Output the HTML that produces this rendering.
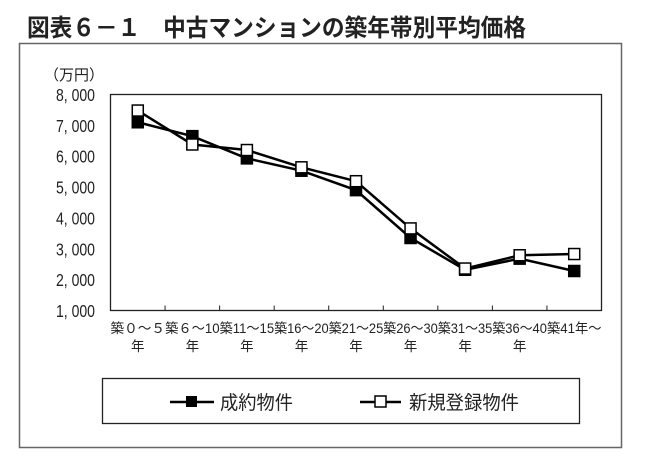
<!DOCTYPE html>
<html><head><meta charset="utf-8"><style>
body{margin:0;background:#fff;width:645px;height:463px;overflow:hidden}
svg{display:block;font-family:"Liberation Sans","Noto Sans CJK JP",sans-serif}
</style></head><body>
<svg width="645" height="463">
<text x="27" y="36" font-size="24" font-weight="bold" fill="#222" textLength="499" lengthAdjust="spacingAndGlyphs">図表６－１　中古マンションの築年帯別平均価格</text>
<rect x="19.5" y="43.5" width="602" height="404" fill="none" stroke="#666" stroke-width="1.5"/>
<text x="44" y="80" font-size="15" fill="#222">（万円）</text>
<rect x="110.5" y="94.5" width="491" height="216" fill="none" stroke="#222" stroke-width="1.3"/>
<g id="yt"></g><g id="xt"></g><g id="series"></g>
<rect x="102.5" y="378.5" width="477" height="45" fill="none" stroke="#222" stroke-width="1.3"/>
<g>
<line x1="170" y1="402" x2="214" y2="402" stroke="#000" stroke-width="2.5"/>
<rect x="186" y="396" width="11" height="11" fill="#000"/>
<text x="220" y="409" font-size="19" fill="#222" textLength="73" lengthAdjust="spacingAndGlyphs">成約物件</text></g>
<g>
<line x1="360" y1="402" x2="401" y2="402" stroke="#000" stroke-width="2.5"/>
<rect x="375" y="396" width="11" height="11" fill="#fff" stroke="#000" stroke-width="1.5"/>
<text x="409" y="409" font-size="19" fill="#222" textLength="110" lengthAdjust="spacingAndGlyphs">新規登録物件</text></g>
</svg>
<script>
const categories=["築０～５年","築６～10年","築11～15年","築16～20年","築21～25年","築26～30年","築31～35年","築36～40年","築41年～"];
const closedValues=[7100,6650,5930,5530,4900,3350,2320,2680,2280];
const newValues=[7480,6380,6200,5640,5190,3660,2360,2790,2830];
const yTicks=[1000,2000,3000,4000,5000,6000,7000,8000];
const yTickLabels=["1,000","2,000","3,000","4,000","5,000","6,000","7,000","8,000"];
const NS="http://www.w3.org/2000/svg";
const x0=110.5,x1=601.5,y0=310.5,y1=94.5;
const xs=i=>x0+(i+0.5)*(x1-x0)/categories.length;
const ys=v=>y0-(v-1000)/(8000-1000)*(y0-y1);
function mk(t,a,p){const e=document.createElementNS(NS,t);for(const k in a)e.setAttribute(k,a[k]);p.appendChild(e);return e;}
const yt=document.getElementById('yt');
yTicks.forEach((v,i)=>{const t=mk('text',{x:95,y:ys(v)+6.5,'font-size':18,'text-anchor':'end',fill:'#222',transform:`translate(95 0) scale(0.78 1) translate(-95 0)`},yt);t.textContent=yTickLabels[i].replace(',',', ');

});
const xt=document.getElementById('xt');
categories.forEach((c,i)=>{
 if(i>0){const l=mk('line',{x1:x0+i*(x1-x0)/categories.length,x2:x0+i*(x1-x0)/categories.length,y1:y0,y2:y0-5,stroke:'#222'},xt);
 
 }
 const last=i===categories.length-1;
 const top=last?c:c.slice(0,-1);
 const t=mk('text',{x:xs(i),y:333,'font-size':13.5,'text-anchor':'middle',fill:'#222',textLength:54.5,lengthAdjust:'spacingAndGlyphs'},xt);t.textContent=top;
 
 
 if(!last){const t2=mk('text',{x:xs(i),y:351,'font-size':13.5,'text-anchor':'middle',fill:'#222'},xt);t2.textContent='年';
 
 }
});
const sg=document.getElementById('series');
function series(vals,fill,name){
 const pl=mk('polyline',{points:vals.map((v,i)=>xs(i)+','+ys(v)).join(' '),fill:'none',stroke:'#000','stroke-width':2.5},sg);
 
 
 vals.forEach((v,i)=>{const r=mk('rect',{x:xs(i)-5.5,y:ys(v)-5.5,width:11,height:11,fill:fill,stroke:'#000','stroke-width':1.5},sg);
 
 });
}
series(closedValues,'#000','closed');
series(newValues,'#fff','new');
</script>
</body></html>
